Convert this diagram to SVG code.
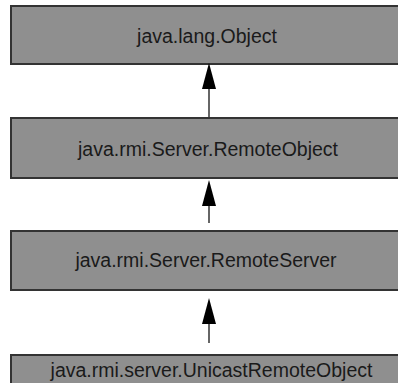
<svg xmlns="http://www.w3.org/2000/svg" width="398" height="383" viewBox="0 0 398 383">
<style>
.box{fill:#8f8f8f;stroke:#333;stroke-width:2}
.lbl{font-family:"Liberation Sans",Arial,sans-serif;font-size:19.5px;fill:#1a1a1a;text-anchor:middle}
.edge{stroke:#333;stroke-width:1.5;fill:none}
.head{fill:#000}
</style>
<rect width="398" height="383" fill="#fff"/>
<g id="node-object">
<rect class="box" x="11" y="6" width="395" height="58"/>
<text class="lbl" x="207" y="43">java.lang.Object</text>
</g>
<g id="node-remoteobject">
<rect class="box" x="11" y="118" width="395" height="60"/>
<text class="lbl" x="208" y="156">java.rmi.Server.RemoteObject</text>
</g>
<g id="node-remoteserver">
<rect class="box" x="11" y="231" width="395" height="59"/>
<text class="lbl" x="206" y="267">java.rmi.Server.RemoteServer</text>
</g>
<g id="node-unicast">
<rect class="box" x="11" y="355" width="395" height="40"/>
<text class="lbl" x="211.5" y="377">java.rmi.server.UnicastRemoteObject</text>
</g>
<g id="connectors">
<line class="edge" x1="209" y1="118" x2="209" y2="86"/>
<polygon class="head" points="209,63 216,89 202,89"/>
<line class="edge" x1="209" y1="223" x2="209" y2="204"/>
<polygon class="head" points="209,180 216,206 202,206"/>
<line class="edge" x1="209" y1="343" x2="209" y2="322"/>
<polygon class="head" points="209,298 216,324 202,324"/>
</g>
</svg>
